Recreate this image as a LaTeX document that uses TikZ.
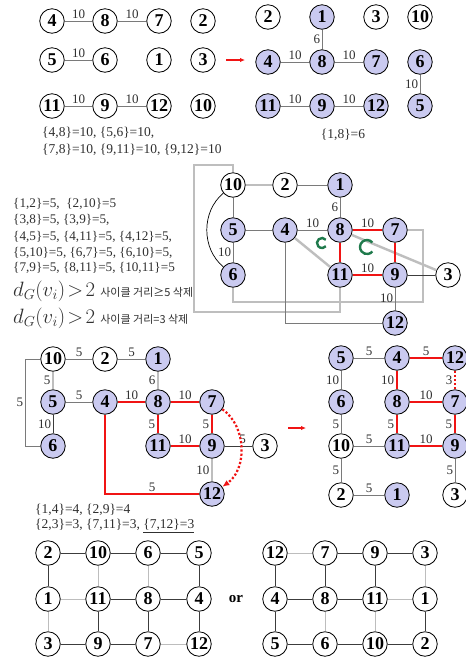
\documentclass[tikz,border=0pt]{standalone}
\usepackage{fontspec}
\setmainfont{Liberation Serif}
\newfontfamily\krfont{Noto Sans CJK KR}
\usetikzlibrary{arrows.meta}
\definecolor{vfill}{HTML}{CACAF0}
\definecolor{edgegray}{HTML}{7A7A7A}
\definecolor{edgedark}{HTML}{3C3C3C}
\definecolor{widegray}{HTML}{BEBEBE}
\definecolor{gridlight}{HTML}{BDBDBD}
\definecolor{redline}{HTML}{F01414}
\definecolor{cyclegreen}{HTML}{1F7A4C}
\definecolor{textfg}{HTML}{303030}

\begin{document}
\begin{tikzpicture}[
  x=1pt,
  y=1pt,
  >=Latex,
  vtx/.style={circle, draw=black, line width=0.8pt, fill=white, minimum size=24.5pt,
    inner sep=0pt, font=\fontsize{18}{18}\selectfont\bfseries},
  lbl/.style={text=textfg, font=\fontsize{13}{13}\selectfont, inner sep=1.5pt},
  thinedge/.style={draw=edgegray, line width=1pt},
  darkedge/.style={draw=edgedark, line width=0.9pt},
  wideedge/.style={draw=widegray, line width=2.4pt},
  rededge/.style={draw=redline, line width=2.6pt},
  reddots/.style={draw=redline, line width=2.2pt, dotted},
  redarrow/.style={draw=redline, line width=1.3pt, -{Latex[length=5pt, width=4.5pt]}},
  gridlink/.style={draw=edgedark, line width=0.8pt},
  gridfaint/.style={draw=gridlight, line width=0.8pt},
  cycmark/.style={draw=cyclegreen, line width=2.4pt},
  note/.style={anchor=west, text=textfg, inner sep=0pt, font=\fontsize{13.5}{14}\selectfont},
  smallnote/.style={anchor=west, text=textfg, inner sep=0pt, font=\fontsize{13.2}{14}\selectfont}
]
  \useasboundingbox (0,0) rectangle (466,-657);
  \fill[white] (0,0) rectangle (466,-657);

  % first step: edges of weight 10
  \foreach \n/\x/\y in {4/52/21, 8/105/21, 7/159/21, 2/203/21, 5/52/60, 6/105/60,
      1/159/60, 3/203/60, 11/52/106, 9/105/106, 12/159/106, 10/203/106}
    \node[vtx] (a\n) at (\x,-\y) {\n};
  \draw[thinedge] (a4) -- node[lbl, above] {10} (a8);
  \draw[thinedge] (a8) -- node[lbl, above] {10} (a7);
  \draw[thinedge] (a5) -- node[lbl, above] {10} (a6);
  \draw[thinedge] (a11) -- node[lbl, above] {10} (a9);
  \draw[thinedge] (a9) -- node[lbl, above] {10} (a12);
  \node[note] (w10a) at (42,-133) {\{4,8\}=10, \{5,6\}=10,};
  \node[note] (w10b) at (42,-150) {\{7,8\}=10, \{9,11\}=10, \{9,12\}=10};

  \coordinate (go1) at (226,-60);
  \coordinate (go1end) at (245,-60);
  \draw[redarrow] (go1) -- (go1end);

  % second step
  \foreach \n/\x/\y/\f in {2/268/17/white, 1/322/17/vfill, 3/376/17/white, 10/420/17/white,
      4/268/62/vfill, 8/322/62/vfill, 7/376/62/vfill, 6/420/62/vfill,
      11/268/106/vfill, 9/322/106/vfill, 12/376/106/vfill, 5/420/106/vfill}
    \node[vtx, fill=\f] (b\n) at (\x,-\y) {\n};
  \draw[thinedge] (b1) -- node[lbl, left] {6} (b8);
  \draw[thinedge] (b4) -- node[lbl, above] {10} (b8);
  \draw[thinedge] (b8) -- node[lbl, above] {10} (b7);
  \draw[thinedge] (b6) -- node[lbl, left] {10} (b5);
  \draw[thinedge] (b11) -- node[lbl, above] {10} (b9);
  \draw[thinedge] (b9) -- node[lbl, above] {10} (b12);
  \node[note, anchor=center] (w6) at (343,-135) {\{1,8\}=6};

  % third step: the whole graph
  \foreach \n/\x/\y/\f in {10/233/185/white, 2/285/185/white, 1/340/185/vfill,
      5/233/230/vfill, 4/285/230/vfill, 8/340/230/vfill, 7/395/230/vfill,
      6/233/275/vfill, 11/340/275/vfill, 9/395/275/vfill, 3/448/275/white, 12/395/323/vfill}
    \node[vtx, fill=\f] (c\n) at (\x,-\y) {\n};
  \draw[wideedge] (c10) -- (233,-165) -- (194,-165) -- (194,-312) -- (340,-312) -- (c11);
  \draw[wideedge] (c6) -- (233,-302) -- (423,-302) -- (423,-230) -- (c7);
  \draw[wideedge] (c10) -- (c2);
  \draw[wideedge] (c4) -- (c11);
  \draw[wideedge] (c8) -- (c3);
  \draw[thinedge] (c2) -- (c1);
  \draw[thinedge] (c1) -- node[lbl, left] {6} (c8);
  \draw[thinedge] (c10) -- (c5);
  \draw[thinedge] (c5) -- (c4);
  \draw[thinedge] (c4) -- node[lbl, above] {10} (c8);
  \draw[thinedge] (c5) -- node[lbl, left] {10} (c6);
  \draw[darkedge] (c9) -- (c3);
  \draw[thinedge] (c9) -- node[lbl, left, pos=0.45] {10} (c12);
  \draw[thinedge] (c4) -- (285,-323) -- (c12);
  \draw[black, line width=0.7pt] (c10) to[bend right=50] (c6);
  \draw[rededge] (c8) -- node[lbl, above] {10} (c7);
  \draw[rededge] (c8) -- (c11);
  \draw[rededge] (c7) -- (c9);
  \draw[rededge] (c11) -- node[lbl, above] {10} (c9);
  \draw[cycmark] (322,-243) ++(40:5) arc[start angle=40, end angle=320, radius=5];
  \draw[cycmark] (367,-247) ++(40:7) arc[start angle=40, end angle=320, radius=7];

  \node[smallnote] (w5a) at (13,-204) {\{1,2\}=5,\ \ \{2,10\}=5};
  \node[smallnote] (w5b) at (13,-220) {\{3,8\}=5, \{3,9\}=5,};
  \node[smallnote] (w5c) at (13,-237) {\{4,5\}=5, \{4,11\}=5, \{4,12\}=5,};
  \node[smallnote] (w5d) at (13,-253) {\{5,10\}=5, \{6,7\}=5, \{6,10\}=5,};
  \node[smallnote] (w5e) at (13,-268) {\{7,9\}=5, \{8,11\}=5, \{10,11\}=5};
  \node[note] (rule5) at (13,-291)
    {\fontsize{21}{21}\selectfont$d_G(v_i)\!>\!2$\ {\krfont\fontsize{11}{11}\selectfont 사이클 거리≥5 삭제}};
  \node[note] (rule3) at (13,-318)
    {\fontsize{21}{21}\selectfont$d_G(v_i)\!>\!2$\ {\krfont\fontsize{11}{11}\selectfont 사이클 거리=3 삭제}};

  % fourth step
  \foreach \n/\x/\y/\f in {10/53/359/white, 2/105/359/white, 1/158/359/vfill,
      5/53/402/vfill, 4/105/402/vfill, 8/158/402/vfill, 7/212/402/vfill,
      6/53/446/vfill, 11/158/446/vfill, 9/212/446/vfill, 3/265/446/white, 12/212/494/vfill}
    \node[vtx, fill=\f] (d\n) at (\x,-\y) {\n};
  \draw[thinedge] (d10) -- node[lbl, above] {5} (d2);
  \draw[thinedge] (d2) -- node[lbl, above] {5} (d1);
  \draw[thinedge] (d5) -- node[lbl, above] {5} (d4);
  \draw[darkedge] (d5) -- node[lbl, left] {10} (d6);
  \draw[darkedge] (d9) -- node[lbl, above, pos=0.65] {5} (d3);
  \draw[thinedge] (d10) -- (25,-359) -- node[lbl, left] {5} (25,-446) -- (d6);
  \draw[wideedge] (d1) -- node[lbl, left] {6} (d8);
  \draw[wideedge] (d10) -- node[lbl, left] {5} (d5);
  \draw[wideedge] (d9) -- node[lbl, left] {10} (d12);
  \draw[rededge] (d4) -- node[lbl, above] {10} (d8);
  \draw[rededge] (d8) -- node[lbl, above] {10} (d7);
  \draw[rededge] (d8) -- node[lbl, left] {5} (d11);
  \draw[rededge] (d7) -- node[lbl, left] {5} (d9);
  \draw[rededge] (d11) -- node[lbl, above] {10} (d9);
  \draw[rededge] (d4) -- (105,-494) -- node[lbl, above] {5} (d12);
  \draw[reddots, -{Latex[length=7pt, width=6pt]}] (d7) to[bend left=55] (d12);

  \node[note] (w4) at (35,-510) {\{1,4\}=4, \{2,9\}=4};
  \node[note] (w3) at (35,-526) {\{2,3\}=3, \{7,11\}=3, \underline{\{7,12\}=3}};

  \coordinate (go2) at (288,-428);
  \coordinate (go2end) at (306,-428);
  \draw[redarrow] (go2) -- (go2end);

  % result
  \foreach \n/\x/\y/\f in {5/341/358/vfill, 4/397/358/vfill, 12/455/358/vfill,
      6/341/402/vfill, 8/397/402/vfill, 7/455/402/vfill,
      10/341/446/white, 11/397/446/vfill, 9/455/446/vfill,
      2/341/495/white, 1/397/495/vfill, 3/455/495/white}
    \node[vtx, fill=\f] (e\n) at (\x,-\y) {\n};
  \draw[thinedge] (e5) -- node[lbl, above] {5} (e4);
  \draw[thinedge] (e5) -- node[lbl, left] {10} (e6);
  \draw[thinedge] (e6) -- node[lbl, left] {5} (e10);
  \draw[thinedge] (e10) -- node[lbl, above] {5} (e11);
  \draw[thinedge] (e10) -- node[lbl, left] {5} (e2);
  \draw[thinedge] (e2) -- node[lbl, above] {5} (e1);
  \draw[thinedge] (e9) -- node[lbl, left] {5} (e3);
  \draw[rededge] (e4) -- node[lbl, above] {5} (e12);
  \draw[rededge] (e4) -- node[lbl, left] {10} (e8);
  \draw[rededge] (e8) -- node[lbl, above] {10} (e7);
  \draw[rededge] (e8) -- node[lbl, left] {5} (e11);
  \draw[rededge] (e7) -- node[lbl, left] {5} (e9);
  \draw[rededge] (e11) -- node[lbl, above] {10} (e9);
  \draw[reddots] (e12) -- node[lbl, left] {3} (e7);

  % two grid layouts
  \foreach \n/\x/\y in {2/48/553, 10/98/553, 6/148/553, 5/199/553,
      1/48/599, 11/98/599, 8/148/599, 4/199/599,
      3/48/644, 9/98/644, 7/148/644, 12/199/644}
    \node[vtx] (f\n) at (\x,-\y) {\n};
  \foreach \u/\v in {2/10, 10/6, 6/5, 2/1, 5/4, 11/8, 8/4, 11/9, 8/7, 4/12, 3/9, 9/7}
    \draw[gridlink] (f\u) -- (f\v);
  \foreach \u/\v in {10/11, 6/8, 1/11, 1/3, 7/12}
    \draw[gridfaint] (f\u) -- (f\v);

  \node[font=\fontsize{15}{15}\selectfont\bfseries] (orword) at (236,-599) {or};

  \foreach \n/\x/\y in {12/275/553, 7/325/553, 9/375/553, 3/425/553,
      4/275/599, 8/325/599, 11/375/599, 1/425/599,
      5/275/644, 6/325/644, 10/375/644, 2/425/644}
    \node[vtx] (g\n) at (\x,-\y) {\n};
  \foreach \u/\v in {7/9, 9/3, 12/4, 7/8, 9/11, 4/8, 8/11, 4/5, 1/2, 5/6, 6/10, 10/2}
    \draw[gridlink] (g\u) -- (g\v);
  \foreach \u/\v in {12/7, 3/1, 11/1, 8/6, 11/10}
    \draw[gridfaint] (g\u) -- (g\v);
\end{tikzpicture}
\end{document}
